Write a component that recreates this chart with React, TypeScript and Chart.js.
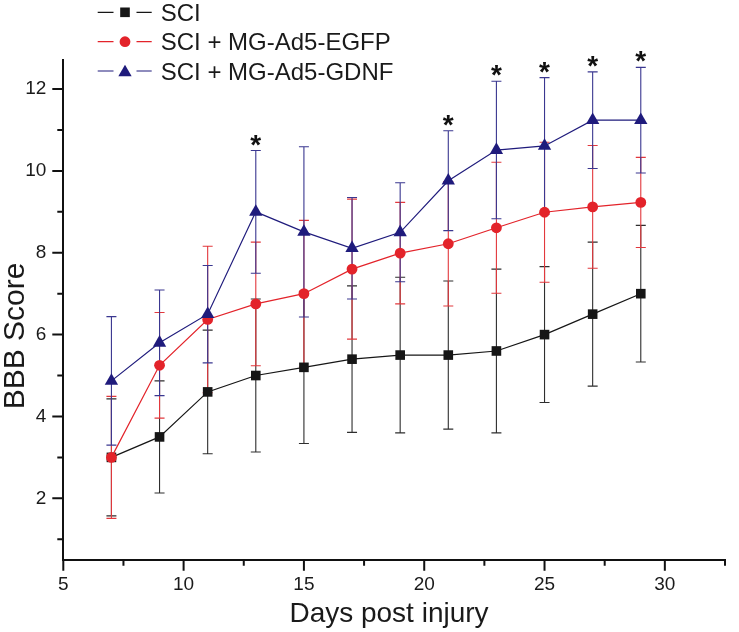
import React, { useEffect, useRef } from "react";
import { Chart, registerables } from "chart.js";

Chart.register(...registerables);

// ---------- data ----------
const days = [7, 9, 11, 13, 15, 17, 19, 21, 23, 25, 27, 29];
const sciMean = [3.0, 3.5, 4.6, 5.0, 5.2, 5.4, 5.5, 5.5, 5.6, 6.0, 6.5, 7.0];
const sciErr = [1.43, 1.37, 1.51, 1.87, 1.86, 1.79, 1.9, 1.81, 2.0, 1.66, 1.76, 1.67];
const egfpMean = [3.0, 5.25, 6.37, 6.75, 7.0, 7.6, 7.99, 8.22, 8.61, 8.99, 9.12, 9.23];
const egfpErr = [1.49, 1.29, 1.79, 1.51, 1.79, 1.71, 1.24, 1.52, 1.6, 1.71, 1.5, 1.1];
const gdnfMean = [4.87, 5.8, 6.5, 9.0, 8.51, 8.11, 8.5, 9.76, 10.51, 10.61, 11.24, 11.24];
const gdnfErr = [1.57, 1.29, 1.19, 1.5, 2.08, 1.24, 1.21, 1.22, 1.68, 1.67, 1.18, 1.29];
const significantDays = [13, 21, 23, 25, 27, 29];
const seriesLabels = ["SCI", "SCI + MG-Ad5-EGFP", "SCI + MG-Ad5-GDNF"];
const xMajorTicks = [5, 10, 15, 20, 25, 30];
const xMinorTicks = [7.5, 12.5, 17.5, 22.5, 27.5, 32.5];
const yMajorTicks = [2, 4, 6, 8, 10, 12];
const yMinorTicks = [1, 3, 5, 7, 9, 11];
const xTitle = "Days post injury";
const yTitle = "BBB Score";

// ---------- styles ----------
const FONT = "'Liberation Sans', Arial, Helvetica, sans-serif";
const BLACK = "#161616";
const RED = "#e3232a";
const BLUE = "#1f1b7c";
const AXIS = "#111111";

const seriesStyles = [
  { color: BLACK, barColor: "#2e2e2e", pointStyle: "rect", radius: 6.8 },
  { color: RED, barColor: "#e2383d", pointStyle: "circle", radius: 5.4 },
  { color: BLUE, barColor: "#3a3790", pointStyle: "triangle", radius: 7.7 },
];
const seriesMeans = [sciMean, egfpMean, gdnfMean];
const seriesErrs = [sciErr, egfpErr, gdnfErr];

function drawMarker(ctx: CanvasRenderingContext2D, style: string, x: number, y: number, r: number, color: string) {
  ctx.save();
  ctx.fillStyle = color;
  ctx.beginPath();
  if (style === "rect") {
    const s = Math.SQRT1_2 * r;
    ctx.rect(x - s, y - s, 2 * s, 2 * s);
  } else if (style === "circle") {
    ctx.arc(x, y, r, 0, Math.PI * 2);
  } else {
    let a = 0;
    ctx.moveTo(x + Math.sin(a) * r, y - Math.cos(a) * r);
    a += (2 * Math.PI) / 3;
    ctx.lineTo(x + Math.sin(a) * r, y - Math.cos(a) * r);
    a += (2 * Math.PI) / 3;
    ctx.lineTo(x + Math.sin(a) * r, y - Math.cos(a) * r);
    ctx.closePath();
  }
  ctx.fill();
  ctx.restore();
}

const errorBarPlugin = {
  id: "errorBars",
  beforeDatasetsDraw(chart: any) {
    const { ctx, scales } = chart;
    const xs = scales.x;
    const ys = scales.y;
    ctx.save();
    ctx.lineWidth = 1.1;
    seriesMeans.forEach((means, si) => {
      ctx.strokeStyle = seriesStyles[si].barColor;
      means.forEach((m, i) => {
        const e = seriesErrs[si][i];
        const px = xs.getPixelForValue(days[i]);
        const top = ys.getPixelForValue(m + e);
        const bot = ys.getPixelForValue(m - e);
        ctx.beginPath();
        ctx.moveTo(px, top);
        ctx.lineTo(px, bot);
        ctx.moveTo(px - 5, top);
        ctx.lineTo(px + 5, top);
        ctx.moveTo(px - 5, bot);
        ctx.lineTo(px + 5, bot);
        ctx.stroke();
      });
    });
    ctx.restore();
  },
};

const decorationsPlugin = {
  id: "decorations",
  afterDraw(chart: any) {
    const { ctx, scales, chartArea } = chart;
    const xs = scales.x;
    const ys = scales.y;
    ctx.save();

    // tick marks (outward, major longer)
    ctx.strokeStyle = AXIS;
    ctx.lineWidth = 2;
    ctx.beginPath();
    xMajorTicks.concat(xMinorTicks).forEach((v) => {
      const px = xs.getPixelForValue(v);
      const len = xMajorTicks.includes(v) ? 11 : 6;
      ctx.moveTo(px, chartArea.bottom);
      ctx.lineTo(px, chartArea.bottom + len);
    });
    yMajorTicks.concat(yMinorTicks).forEach((v) => {
      const py = ys.getPixelForValue(v);
      const len = yMajorTicks.includes(v) ? 11 : 6;
      ctx.moveTo(chartArea.left, py);
      ctx.lineTo(chartArea.left - len, py);
    });
    ctx.stroke();

    // significance stars
    ctx.fillStyle = "#111";
    ctx.font = `bold 28px ${FONT}`;
    ctx.textAlign = "center";
    ctx.textBaseline = "alphabetic";
    significantDays.forEach((d) => {
      const i = days.indexOf(d);
      const px = xs.getPixelForValue(d);
      const capY = ys.getPixelForValue(gdnfMean[i] + gdnfErr[i]);
      const centerY = capY - 13;
      ctx.fillText("*", px, centerY + 0.575 * 28);
    });

    // axis titles
    ctx.fillStyle = "#1a1a1a";
    ctx.font = `28px ${FONT}`;
    ctx.textAlign = "center";
    ctx.textBaseline = "alphabetic";
    ctx.fillText(xTitle, 389, 622);
    ctx.save();
    ctx.font = `30px ${FONT}`;
    ctx.translate(23.5, 336);
    ctx.rotate(-Math.PI / 2);
    ctx.fillText(yTitle, 0, 0);
    ctx.restore();

    // legend
    const rowsY = [12.3, 41.7, 71];
    ctx.font = `24px ${FONT}`;
    ctx.textAlign = "left";
    seriesLabels.forEach((label, si) => {
      const st = seriesStyles[si];
      const y = rowsY[si];
      ctx.strokeStyle = st.color;
      ctx.lineWidth = 1.2;
      ctx.beginPath();
      ctx.moveTo(97.7, y);
      ctx.lineTo(113.5, y);
      ctx.moveTo(136.5, y);
      ctx.lineTo(151.7, y);
      ctx.stroke();
      drawMarker(ctx, st.pointStyle, 125, y + (st.pointStyle === "triangle" ? 1.5 : 0), st.radius, st.color);
      ctx.fillStyle = "#1a1a1a";
      ctx.fillText(label, 160.7, y + 0.358 * 24);
    });

    ctx.restore();
  },
};

export default function App() {
  const canvasRef = useRef<HTMLCanvasElement | null>(null);

  useEffect(() => {
    const canvas = canvasRef.current;
    if (!canvas) return;

    const datasets = seriesMeans.map((means, si) => ({
      label: seriesLabels[si],
      data: days.map((d, i) => ({ x: d, y: means[i] })),
      borderColor: seriesStyles[si].color,
      backgroundColor: seriesStyles[si].color,
      borderWidth: 1.2,
      pointStyle: seriesStyles[si].pointStyle,
      pointRadius: seriesStyles[si].radius,
      pointHoverRadius: seriesStyles[si].radius,
      pointBorderWidth: 0,
      pointBackgroundColor: seriesStyles[si].color,
      tension: 0,
      fill: false,
      order: 2 - si,
      clip: false,
    }));

    const tickFont = { family: FONT, size: 19 };

    const chart = new Chart(canvas, {
      type: "line",
      data: { datasets: datasets as any },
      options: {
        responsive: false,
        animation: false,
        devicePixelRatio: 1,
        layout: { padding: { left: 0, top: 60.4, right: 2.5, bottom: 0 } },
        plugins: {
          legend: { display: false },
          tooltip: { enabled: false },
          title: { display: false },
        },
        scales: {
          x: {
            type: "linear",
            min: 5,
            max: 32.5,
            afterBuildTicks: (scale: any) => {
              scale.ticks = xMajorTicks
                .concat(xMinorTicks)
                .sort((a, b) => a - b)
                .map((value) => ({ value }));
            },
            afterFit: (scale: any) => {
              scale.height = 72.3;
            },
            ticks: {
              autoSkip: false,
              maxRotation: 0,
              padding: 14,
              color: "#1a1a1a",
              font: tickFont,
              callback: (v: any) => (xMajorTicks.includes(Number(v)) ? String(v) : ""),
            },
            grid: { display: true, drawOnChartArea: false, drawTicks: false },
            border: { display: true, color: AXIS, width: 2 },
          },
          y: {
            type: "linear",
            min: 0.5,
            max: 12.7,
            afterBuildTicks: (scale: any) => {
              scale.ticks = yMinorTicks
                .concat(yMajorTicks)
                .sort((a, b) => a - b)
                .map((value) => ({ value }));
            },
            afterFit: (scale: any) => {
              scale.width = 63.3;
            },
            ticks: {
              autoSkip: false,
              padding: 17,
              color: "#1a1a1a",
              font: tickFont,
              callback: (v: any) => (yMajorTicks.includes(Number(v)) ? String(v) : ""),
            },
            grid: { display: true, drawOnChartArea: false, drawTicks: false },
            border: { display: true, color: AXIS, width: 2 },
          },
        },
      },
      plugins: [errorBarPlugin, decorationsPlugin],
    });

    return () => {
      chart.destroy();
    };
  }, []);

  return (
    <div style={{ position: "fixed", left: 0, top: 0, width: 739, height: 632, background: "#fff" }}>
      <canvas ref={canvasRef} width={739} height={632} style={{ display: "block" }} />
    </div>
  );
}
